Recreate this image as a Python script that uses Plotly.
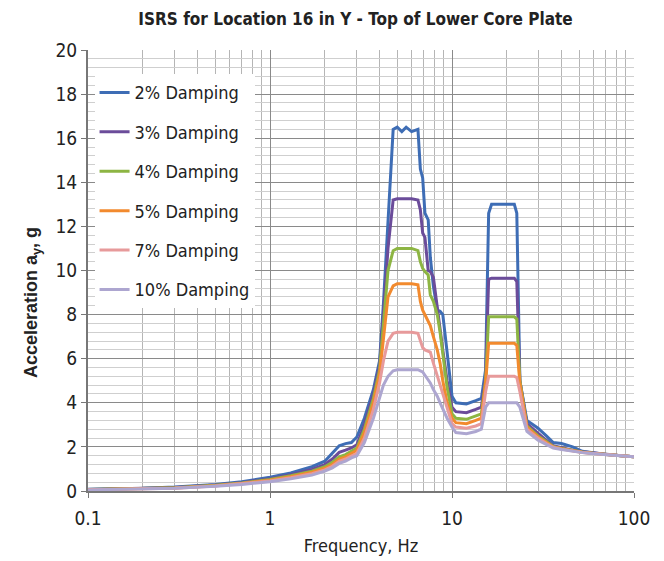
import plotly.graph_objects as go

FREQ = [0.1, 0.2, 0.3, 0.5, 0.7, 1.0, 1.3, 1.7, 2.0, 2.2, 2.4, 2.6, 2.8,
        3.0, 3.3, 3.7, 4.0, 4.2, 4.45, 4.75, 5.0, 5.3, 5.6, 6.0, 6.5,
        6.7, 6.9, 7.1, 7.4, 7.6, 7.9, 8.3, 8.6, 8.9, 9.4, 10, 10.5, 12, 13.5,
        14.5, 15.3, 15.9, 16.5, 19, 22, 22.7, 23.6, 25.8, 29.7, 33, 36, 40,
        46, 52, 60, 70, 85, 100]

D2 = [0.08, 0.12, 0.18, 0.3, 0.42, 0.62, 0.82, 1.1, 1.35, 1.7, 2.05, 2.15, 2.2,
      2.45, 3.3, 4.6, 5.9, 8.5, 12.0, 16.4, 16.5, 16.3, 16.5, 16.3, 16.4,
      14.6, 14.2, 12.6, 12.3, 10.6, 9.3, 8.2, 8.15, 8.0, 6.3, 4.3, 4.0, 3.95, 4.1,
      4.2, 5.5, 12.6, 13.0, 13.0, 13.0, 12.6, 5.0, 3.2, 2.85, 2.5, 2.2, 2.15,
      2.0, 1.8, 1.72, 1.66, 1.6, 1.55]
D3 = [0.07, 0.11, 0.16, 0.27, 0.38, 0.56, 0.74, 0.98, 1.2, 1.45, 1.75, 1.85, 1.95,
      2.1, 3.0, 4.4, 5.7, 8.0, 11.0, 13.2, 13.25, 13.25, 13.25, 13.25, 13.2,
      12.75, 11.7, 11.5, 10.0, 9.95, 9.7, 8.3, 7.2, 6.4, 5.0, 3.8, 3.6, 3.55, 3.7,
      3.8, 5.2, 9.6, 9.65, 9.65, 9.65, 9.5, 5.0, 3.05, 2.6, 2.3, 2.05, 1.95,
      1.85, 1.78, 1.72, 1.66, 1.6, 1.55]
D4 = [0.07, 0.1, 0.15, 0.26, 0.36, 0.52, 0.69, 0.9, 1.1, 1.3, 1.55, 1.65, 1.8,
      1.95, 2.8, 4.2, 5.5, 7.5, 10.0, 10.9, 11.0, 11.0, 11.0, 11.0, 10.9,
      10.4, 10.1, 9.95, 9.8, 8.9, 8.6, 8.0, 7.2, 6.2, 4.7, 3.5, 3.3, 3.25, 3.4,
      3.5, 5.0, 7.9, 7.9, 7.9, 7.9, 7.8, 5.0, 2.95, 2.5, 2.25, 2.02, 1.93,
      1.83, 1.77, 1.71, 1.65, 1.6, 1.55]
D5 = [0.06, 0.1, 0.14, 0.24, 0.34, 0.49, 0.65, 0.85, 1.03, 1.2, 1.45, 1.55, 1.7,
      1.85, 2.65, 4.0, 5.3, 7.0, 8.8, 9.3, 9.4, 9.4, 9.4, 9.4, 9.35,
      8.6, 8.2, 8.0, 7.75, 7.5, 7.0, 6.4, 5.8, 5.0, 4.0, 3.3, 3.1, 3.05, 3.2,
      3.3, 4.9, 6.7, 6.7, 6.7, 6.7, 6.6, 4.9, 2.9, 2.45, 2.2, 2.0, 1.92,
      1.82, 1.76, 1.7, 1.65, 1.6, 1.55]
D7 = [0.06, 0.09, 0.13, 0.23, 0.32, 0.45, 0.6, 0.78, 0.96, 1.12, 1.35, 1.45, 1.58,
      1.7, 2.4, 3.7, 4.9, 5.9, 6.8, 7.15, 7.2, 7.2, 7.2, 7.2, 7.15,
      6.8, 6.5, 6.4, 6.35, 6.3, 5.8, 5.2, 4.8, 4.4, 3.7, 3.05, 2.9, 2.85, 2.95,
      3.05, 4.5, 5.2, 5.2, 5.2, 5.2, 5.15, 4.5, 2.8, 2.4, 2.15, 1.98, 1.9,
      1.81, 1.75, 1.7, 1.65, 1.6, 1.55]
D10 = [0.05, 0.08, 0.12, 0.22, 0.3, 0.42, 0.55, 0.72, 0.9, 1.05, 1.25, 1.35, 1.5,
       1.6, 2.2, 3.3, 4.3, 4.8, 5.2, 5.45, 5.5, 5.5, 5.5, 5.5, 5.5,
       5.45, 5.4, 5.25, 5.05, 4.9, 4.6, 4.3, 4.0, 3.7, 3.3, 2.9, 2.65, 2.6, 2.7,
       2.8, 3.8, 4.0, 4.0, 4.0, 4.0, 4.0, 3.8, 2.7, 2.3, 2.1, 1.95, 1.88,
       1.8, 1.74, 1.69, 1.64, 1.6, 1.55]

NAMES = ["2% Damping", "3% Damping", "4% Damping", "5% Damping", "7% Damping", "10% Damping"]
SERIES = [D2, D3, D4, D5, D7, D10]
COLORS = ["#3E6DB5", "#6B4C9A", "#8DB543", "#F28A2E", "#E79A9B", "#ADA6D0"]

X_TICKS = [0.1, 1, 10, 100]
X_TICKTEXT = ["0.1", "1", "10", "100"]
X_MINOR = [m * d for d in (0.1, 1, 10) for m in range(2, 10)]

NARROW = "DejaVu Sans Condensed, Liberation Sans Narrow, Arial Narrow, sans-serif"

fig = go.Figure()
for name, ys, col in zip(NAMES, SERIES, COLORS):
    fig.add_trace(go.Scatter(
        x=FREQ, y=ys, mode="lines", name=name, legendgroup=name,
        line=dict(color=col, width=3), line_shape="linear"))

fig.update_layout(
    width=664, height=561,
    margin=dict(l=88, r=30, t=50, b=70),
    paper_bgcolor="white", plot_bgcolor="white",
    title=dict(text="<b>ISRS for Location 16 in Y - Top of Lower Core Plate</b>",
               x=0.49, xref="paper", y=1 - 19 / 561, yanchor="middle",
               font=dict(family=NARROW, size=17, color="#222")),
    legend=dict(x=0.012, y=0.945, xanchor="left", yanchor="top",
                bgcolor="white", borderwidth=0, tracegroupgap=13,
                font=dict(family=NARROW, size=18, color="#222"),
                itemwidth=30),
    showlegend=True,
    annotations=[dict(
        text="<b>Acceleration a<sub>y</sub>, g</b>", textangle=-90,
        xref="paper", yref="paper", x=(32 - 88) / 546, y=(491 - 303) / 441,
        xanchor="center", yanchor="middle", showarrow=False,
        font=dict(family="Liberation Sans, Arial, sans-serif", size=18, color="#222"))],
)

fig.update_xaxes(
    type="log", range=[-1, 2], automargin=False,
    tickvals=X_TICKS, ticktext=X_TICKTEXT,
    ticks="outside", ticklen=5, tickcolor="#777", ticklabelstandoff=4,
    showgrid=True, gridcolor="#8a8a8a", gridwidth=1,
    minor=dict(tickvals=X_MINOR, showgrid=True, gridcolor="#b5b5b5", gridwidth=1, ticks=""),
    showline=True, linecolor="#777", linewidth=2,
    tickfont=dict(family=NARROW, size=19, color="#222"),
    title=dict(text="Frequency, Hz", font=dict(family=NARROW, size=18, color="#222"), standoff=12),
    zeroline=False,
)
fig.update_yaxes(
    range=[0, 20], dtick=2, tick0=0, automargin=False,
    ticks="outside", ticklen=5, tickcolor="#777",
    showgrid=True, gridcolor="#8a8a8a", gridwidth=1,
    minor=dict(dtick=0.4, tick0=0, showgrid=True, gridcolor="#cfcfcf", gridwidth=1, ticks=""),
    showline=True, linecolor="#777", linewidth=2,
    tickfont=dict(family=NARROW, size=19, color="#222"),
    zeroline=False,
)

fig.write_html("out.html")
